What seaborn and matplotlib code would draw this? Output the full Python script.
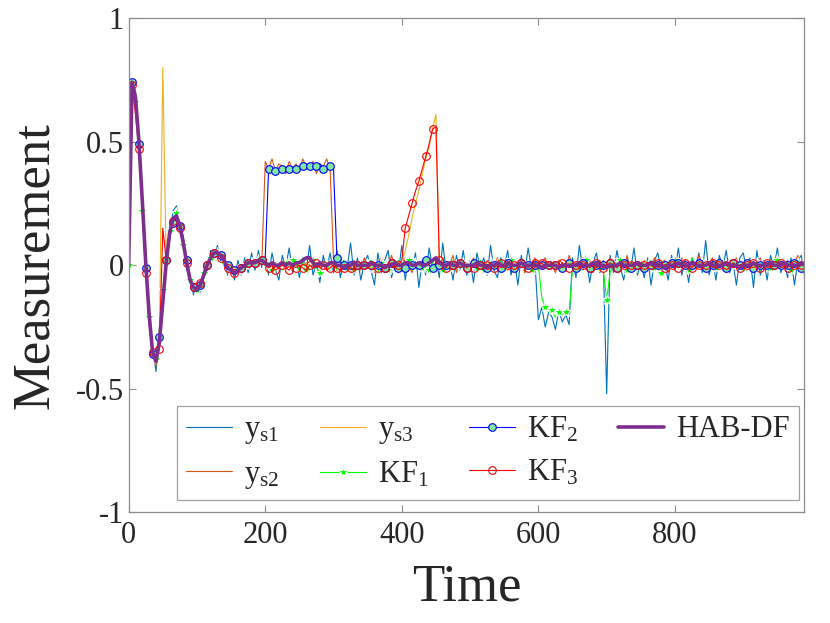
import matplotlib
matplotlib.use("Agg")
import matplotlib.pyplot as plt
import numpy as np
import seaborn as sns

# sample times (every 5th step of the simulation)
t = np.arange(0, 991, 5)

# all series below are in hundredths of the measurement unit
ys1 = [
    70, 75, 66, 53, 24, 4, -23, -33, -43, -29,
    -17, 4, 10, 22, 24, 14, 12, -2, -4, -12,
    -8, -11, -1, -3, 6, 3, 8, 1, 4, -4,
    1, -6, 2, -4, 3, -3, 5, -2, 6, -1,
    3, -4, 5, -2, -6, 4, -1, 7, -3, 2,
    -5, 3, -2, 8, -4, 1, -7, 4, -2, 5,
    -3, 6, -5, 2, -1, 9, -4, 3, -6, 1,
    4, -2, -8, 5, -3, 2, 6, -5, 1, -3,
    8, -6, 3, -2, 5, -9, 2, -4, 7, -1,
    3, -5, 9, -3, 1, -6, 4, -2, 6, -4,
    2, -7, 5, -1, 3, -4, 8, -2, -5, 3,
    -1, 6, -4, 2, -8, 4, -3, 7, -2, 1,
    -22, -17, -25, -19, -21, -26, -18, -23, -20, -24,
    3, -5, 8, -2, 4, -7, 1, 5, -3, 2,
    -52, 4, -3, 6, -1, -6, 3, -2, 7, -4,
    1, -5, 3, -8, 2, 5, -3, 1, -6, 4,
    -2, 7, -4, 2, -7, 3, -1, 5, -3, 10,
    -4, 2, -6, 4, -1, 6, -3, 1, -8, 3,
    5, -2, 3, -9, 6, -4, 2, -6, 4, -1,
    7, -3, 1, -5, 3, -8, 2, 4, -6,
]
ys2 = [
    71, 73, 69, 49, 27, 0, -19, -36, -41, -32,
    -14, 2, 14, 18, 21, 17, 8, 2, -7, -8,
    -11, -7, -5, 1, 2, 6, 4, 5, 1, -2,
    -1, -4, -1, -2, 1, 0, 2, 0, 3, 1,
    42, 39, 43, 38, 41, 40, 37, 42, 39, 41,
    38, 43, 40, 39, 42, 37, 41, 40, 43, 39,
    2, -2, 3, -1, 1, -3, 2, 0, -2, 3,
    -1, 2, -3, 1, 3, -2, 0, 4, -1, 1,
    -2, 3, 0, -3, 2, 1, -1, 3, -2, 0,
    2, -1, 3, -2, 0, 4, -3, 1, 2, -1,
    0, 3, -2, 1, -3, 2, 0, -1, 3, -2,
    1, -2, 4, 0, -1, 2, -3, 1, 0, 3,
    -2, 1, 3, -1, 0, -3, 2, 1, -2, 4,
    0, -2, 1, 3, -1, 2, -3, 0, 2, -1,
    1, 3, -2, 0, 2, -1, 4, -3, 1, 0,
    -2, 2, 0, -1, 3, -2, 1, 2, -3, 0,
    2, -1, 3, 0, -2, 1, -1, 4, 0, -2,
    1, 3, -2, 0, 2, -3, 1, 0, 3, -1,
    -1, 2, 0, -3, 1, 3, -2, 1, 0, 2,
    3, -1, 0, 2, -2, 1, 4, -1, 0,
]
ys3 = [
    72, 74, 67, 51, 26, 2, -21, -34, -40, -30,
    80, 1, 13, 19, 21, 16, 9, 1, -6, -9,
    -10, -8, -4, 0, 3, 5, 6, 4, 2, -1,
    -2, -3, -2, -1, 0, 1, 1, 1, 2, 2,
    1, 0, -1, 1, 0, 1, -1, 0, 1, 0,
    -1, 0, 1, 0, -1, 1, 0, 1, 0, -1,
    0, 1, 0, -1, 1, 0, -1, 0, 1, 0,
    -1, 0, 1, 0, 0, -1, 1, 0, -1, 1,
    1, 6, 12, 19, 25, 30, 37, 43, 48, 55,
    61, 0, 1, -1, 0, 1, 0, -1, 1, 0,
    0, 1, -1, 0, 1, 0, -1, 1, 0, 0,
    1, 0, -1, 0, 1, -1, 0, 1, 0, -1,
    0, 1, 0, -1, 0, 1, -1, 0, 1, 0,
    -1, 0, 1, 0, -1, 0, 1, 0, -1, 1,
    0, -1, 0, 1, 0, -1, 1, 0, 0, 1,
    -1, 0, 1, 0, -1, 1, 0, -1, 0, 1,
    0, 1, -1, 0, 1, 0, -1, 0, 1, 0,
    -1, 1, 0, 0, -1, 1, 0, -1, 1, 0,
    0, -1, 1, 0, 0, 1, -1, 0, 1, -1,
    1, 0, -1, 1, 0, 0, -1, 1, 0,
]
kf1 = [
    0, 72, 66, 45, 22, -3, -21, -33, -38, -26,
    -10, 5, 14, 19, 21, 15, 8, 0, -6, -8,
    -10, -7, -3, 0, 3, 5, 5, 3, 1, -1,
    -2, -3, -2, -1, 0, 1, 1, 2, 2, 1,
    1, -1, -2, 1, 0, -2, 1, -1, 2, 0,
    -1, 1, -2, 0, 2, -1, -3, 1, 0, -2,
    1, -2, 0, 2, -1, 1, -2, 0, 1, -1,
    0, 2, -1, -3, 1, 0, -2, 1, -1, 2,
    0, -1, 2, -2, 1, 0, -1, 2, -2, 1,
    2, 0, -2, 1, -1, 2, 0, -1, 1, -2,
    0, 1, -1, 2, -2, 0, 1, -1, 0, 2,
    -1, 0, 2, -2, 1, -1, 0, 1, -2, 0,
    0, -13, -17, -19, -18, -21, -19, -20, -19, -20,
    -1, 1, -1, 0, 2, -2, 0, 1, -1, -2,
    -14, -3, 1, -1, 2, 0, -2, 1, -1, 0,
    1, -2, 0, 2, -1, 0, -3, 1, 0, -1,
    2, -1, 0, 1, -2, 3, 0, -1, 1, -2,
    0, 1, -1, 2, 0, -2, 1, -1, 0, 1,
    -1, 2, 0, -1, 1, -2, 0, 1, -1, 0,
    2, -1, 0, 1, -2, 0, 1, -1, -3,
]
kf2 = [
    70, 74, 70, 49, 26, -1, -20, -36, -39, -29,
    -13, 2, 12, 17, 19, 16, 10, 2, -5, -9,
    -10, -8, -4, 0, 3, 5, 5, 4, 2, 0,
    -1, -2, -2, -1, 0, 1, 1, 1, 2, 2,
    3, 39, 38, 38, 39, 39, 39, 39, 39, 39,
    40, 40, 40, 40, 40, 40, 41, 39, 39, 40,
    39, 3, 1, 0, -1, 0, 1, 0, -1, 0,
    1, 0, -1, 0, 1, -1, 0, 1, 0, -1,
    0, -1, 1, 0, -1, 0, 1, 2, 0, -1,
    1, 0, -1, 0, 1, 0, -1, 1, 0, -1,
    0, 1, -1, 0, 1, -1, 0, 0, 1, -1,
    0, 1, 0, -1, 0, 1, -1, 0, 1, 0,
    -1, 0, 1, 0, -1, 0, 1, -1, 0, 1,
    0, -1, 0, 1, 0, -1, 1, 0, -1, 0,
    -1, 1, 0, -1, 0, 1, 0, -1, 1, 0,
    0, -1, 1, 0, -1, 0, 1, 0, -1, 1,
    0, 1, -1, 0, 1, 0, -1, 1, 0, -1,
    1, 0, -1, 1, 0, -1, 0, 1, -1, 0,
    0, 1, 0, -1, 1, 0, -1, 0, 1, 0,
    -1, 0, 1, 0, -1, 1, 0, -1, 1,
]
kf3 = [
    74, 73, 61, 47, 22, -3, -24, -35, -37, -34,
    15, 2, 12, 18, 19, 15, 9, 1, -5, -9,
    -10, -7, -4, 0, 3, 5, 5, 3, 1, -1,
    -2, -3, -2, -1, 0, 1, 1, 1, 1, 2,
    0, -1, 0, -2, -1, 0, -1, -2, 0, -1,
    0, -1, -2, 0, -1, 1, -1, 0, -2, -1,
    0, -1, -2, -1, 0, -1, -2, 0, -1, 0,
    -1, 0, 1, -1, 0, -1, 0, 1, -1, 0,
    2, 15, 20, 25, 30, 34, 39, 44, 49, 55,
    56, 2, 0, -1, 1, 0, -1, 1, 0, -1,
    0, -1, 1, 0, -1, 0, 1, -1, 0, 1,
    -1, 0, 1, 0, -1, 1, 0, -1, 0, 1,
    0, 1, -1, 0, 1, 0, -1, 1, 0, -1,
    1, 0, -1, 0, 1, -1, 0, 1, 0, -1,
    0, 1, 0, -1, 1, 0, -1, 0, 1, 0,
    -1, 0, 1, 0, -1, 1, 0, -1, 1, 0,
    1, -1, 0, 1, 0, -1, 1, 0, -1, 0,
    0, 1, -1, 0, 1, 0, -1, 1, 0, -1,
    1, 0, -1, 1, 0, -1, 0, 1, -1, 0,
    0, 1, 0, -1, 1, 0, -1, 0, 1,
]
hab_df = [
    0, 74, 68, 50, 26, 1, -20, -35, -39, -31,
    -15, 1, 13, 19, 20, 16, 9, 1, -6, -9,
    -10, -8, -4, 0, 3, 5, 5, 4, 2, -1,
    -2, -3, -2, -1, 0, 1, 1, 1, 2, 2,
    1, 0, 1, 0, 0, 1, 0, 1, 0, 1,
    1, 2, 3, 3, 1, 0, 1, 0, 0, 1,
    1, 0, 0, -1, 0, 0, 1, 0, 0, 0,
    0, 1, 0, 0, 0, -1, 0, 0, 1, 0,
    0, 1, 1, 0, 0, 1, 0, 0, 1, 2,
    3, 1, 0, 0, 1, 0, 0, 1, 0, 0,
    0, 0, 1, 0, 0, -1, 0, 0, 1, 0,
    0, 1, 0, 0, 0, 1, 0, 0, 0, 0,
    0, -1, 0, 0, 0, 0, -1, 0, 0, 0,
    0, 0, 1, 0, 0, 0, 1, 0, 0, 0,
    -1, 0, 0, 0, 1, 0, 0, 0, 0, 1,
    0, 0, 0, 1, 0, 0, 0, -1, 0, 0,
    0, 1, 0, 0, 0, 1, 0, 0, 0, 0,
    1, 0, 0, 0, 0, 1, 0, 0, 0, -1,
    0, 0, 0, 1, 0, 0, 0, 0, 1, 0,
    0, 0, 1, 0, 0, 0, 0, 1, 0,
]

x_ticks = [0, 200, 400, 600, 800]
y_ticks = [-1, -0.5, 0, 0.5, 1]
y_tick_labels = ["-1", "-0.5", "0", "0.5", "1"]

sns.set_style("ticks")
plt.rcParams["font.family"] = ["Liberation Serif", "DejaVu Serif"]
plt.rcParams["mathtext.fontset"] = "custom"
plt.rcParams["mathtext.rm"] = "Liberation Serif"
plt.rcParams["mathtext.it"] = "Liberation Serif:italic"
plt.rcParams["mathtext.sf"] = "Liberation Serif"

text_color = "#262626"
axis_color = "#8c8c8c"

fig = plt.figure(figsize=(8.3, 6.23), dpi=100)
ax = fig.add_axes([0.155, 0.1774, 0.8137, 0.7937])

def series(vals):
    return np.array(vals) / 100.0

sns.lineplot(x=t, y=series(ys1), ax=ax, color="#0072BD", lw=0.8,
             label=r"$\mathrm{y_{s1}}$")
sns.lineplot(x=t, y=series(ys2), ax=ax, color="#D95319", lw=0.8,
             label=r"$\mathrm{y_{s2}}$")
sns.lineplot(x=t, y=series(ys3), ax=ax, color="#EDB120", lw=0.8,
             label=r"$\mathrm{y_{s3}}$")
sns.lineplot(x=t, y=series(kf1), ax=ax, color="#00FF00", lw=0.8,
             marker="*", markersize=8, markeredgewidth=0.8,
             markevery=(0, 2), label=r"$\mathrm{KF_{1}}$")
sns.lineplot(x=t, y=series(kf2), ax=ax, color="#0000FF", lw=0.8,
             marker="o", markersize=5.5, markerfacecolor="#80E6A0",
             markeredgecolor="#0000FF", markeredgewidth=0.8,
             markevery=(1, 2), label=r"$\mathrm{KF_{2}}$")
sns.lineplot(x=t, y=series(kf3), ax=ax, color="#FF0000", lw=0.8,
             marker="o", markersize=5.5, markerfacecolor="none",
             markeredgecolor="#FF0000", markeredgewidth=0.8,
             markevery=(1, 2), label=r"$\mathrm{KF_{3}}$")
sns.lineplot(x=t, y=series(hab_df), ax=ax, color="#7E2F8E", lw=2.6,
             label="HAB-DF")

ax.set_xlim(0, 989)
ax.set_ylim(-1, 1)
ax.set_xticks(x_ticks)
ax.set_xticklabels([str(v) for v in x_ticks])
ax.set_yticks(y_ticks)
ax.set_yticklabels(y_tick_labels)
ax.tick_params(direction="in", length=5, width=0.8, colors=text_color,
               labelsize=22, top=True, right=True, color=axis_color)
ax.tick_params(axis="x", pad=6)
for side in ["left", "right", "top", "bottom"]:
    ax.spines[side].set_visible(True)
    ax.spines[side].set_color(axis_color)
    ax.spines[side].set_linewidth(0.9)

ax.set_xlabel("Time", fontsize=38, color=text_color, labelpad=10)
ax.set_ylabel("Measurement", fontsize=38, color=text_color, labelpad=12)

leg = ax.legend(loc="lower left", bbox_to_anchor=(0.0715, 0.025, 0.921, 0.19),
                mode="expand", ncol=4, fontsize=22, numpoints=1,
                handlelength=1.5, handletextpad=0.4, columnspacing=0.6,
                labelspacing=0.45, borderpad=0.3, fancybox=False,
                framealpha=1, edgecolor="#a0a0a0", borderaxespad=0)
leg.get_frame().set_linewidth(0.9)
for txt in leg.get_texts():
    txt.set_color(text_color)

fig.savefig("out.png", dpi=100)
